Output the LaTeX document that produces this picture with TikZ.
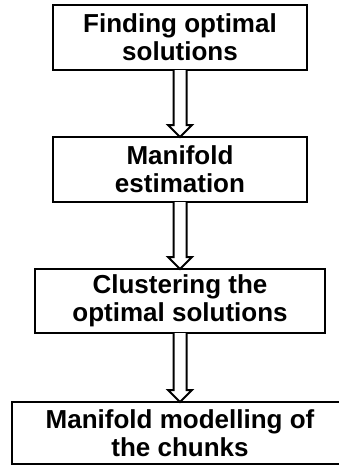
\documentclass[tikz,border=0pt]{standalone}
\usepackage{fontspec}
\setmainfont{Liberation Sans}
\usetikzlibrary{calc}
\tikzset{
  stepbox/.style={draw=black, line width=2.2pt, fill=white, rectangle, outer sep=0pt, inner sep=0pt,
    align=center, font=\fontsize{26}{28}\selectfont\bfseries},
  hollowarrow/.style={draw=black, line width=2pt, fill=white, line join=miter}
}
\newcommand\hollowconn[2]{%
  \draw[hollowarrow] ($(#1.south)+(-6.5pt,0pt)$) -- ($(#2.north)+(-6.5pt,12pt)$)
    -- ($(#2.north)+(-12pt,12pt)$) -- (#2.north) -- ($(#2.north)+(12pt,12pt)$)
    -- ($(#2.north)+(6.5pt,12pt)$) -- ($(#1.south)+(6.5pt,0pt)$);}
\begin{document}
\begin{tikzpicture}[x=1pt,y=1pt]
\useasboundingbox (0,0) rectangle (339,-466);
\node[stepbox, minimum width=254pt, minimum height=65pt] (b1) at (180,-37.5) {Finding optimal\\solutions};
\node[stepbox, minimum width=254pt, minimum height=65pt] (b2) at (180,-169.5) {Manifold\\estimation};
\node[stepbox, minimum width=290pt, minimum height=64pt] (b3) at (180,-301) {Clustering the\\optimal solutions};
\node[stepbox, minimum width=336pt, minimum height=62pt] (b4) at (180,-433) {Manifold modelling of\\the chunks};
\hollowconn{b1}{b2}
\hollowconn{b2}{b3}
\hollowconn{b3}{b4}
\end{tikzpicture}
\end{document}
